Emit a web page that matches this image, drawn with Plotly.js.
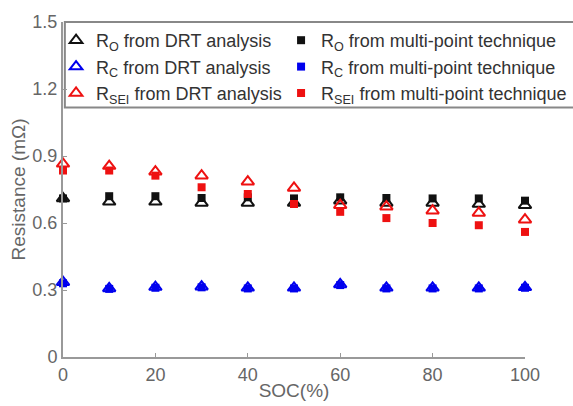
<!DOCTYPE html>
<html>
<head>
<meta charset="utf-8">
<script src="https://cdn.plot.ly/plotly-3.0.1.min.js"></script>
<style>html,body{margin:0;padding:0;background:#fff}#chart{width:573px;height:406px}</style>
</head>
<body>
<div id="chart"></div>
<script>
var soc = [0, 10, 20, 30, 40, 50, 60, 70, 80, 90, 100];
var ro_drt = [0.71, 0.695, 0.695, 0.69, 0.69, 0.69, 0.70, 0.69, 0.69, 0.685, 0.68];
var ro_mp = [0.71, 0.72, 0.72, 0.712, 0.715, 0.71, 0.715, 0.712, 0.71, 0.71, 0.70];
var rc_drt = [0.335, 0.307, 0.313, 0.315, 0.31, 0.31, 0.325, 0.31, 0.31, 0.31, 0.312];
var rc_mp = [0.33, 0.305, 0.31, 0.312, 0.307, 0.307, 0.322, 0.307, 0.307, 0.307, 0.31];
var rsei_drt = [0.865, 0.855, 0.83, 0.812, 0.785, 0.757, 0.68, 0.673, 0.655, 0.645, 0.615];
var rsei_mp = [0.835, 0.835, 0.812, 0.76, 0.73, 0.685, 0.65, 0.622, 0.60, 0.59, 0.56];

var names = [
  'R<sub>O</sub> from DRT analysis', 'R<sub>O</sub> from multi-point technique',
  'R<sub>C</sub> from DRT analysis', 'R<sub>C</sub> from multi-point technique',
  'R<sub>SEI</sub> from DRT analysis', 'R<sub>SEI</sub> from multi-point technique'
];
var colors = ['#111111', '#0000ee', '#ee1111'];

function openTri(y, c, n) {
  return {x: soc, y: y, name: n, type: 'scatter', mode: 'markers', cliponaxis: false, legend: 'legend',
    marker: {symbol: 'triangle-up-open', size: 11, color: c, line: {width: 2, color: c}}};
}
function filledSq(y, c, n) {
  return {x: soc, y: y, name: n, type: 'scatter', mode: 'markers', cliponaxis: false, legend: 'legend2',
    marker: {symbol: 'square', size: 8, color: c, line: {width: 0}}};
}
var data = [
  filledSq(ro_mp, colors[0], names[1]),
  openTri(ro_drt, colors[0], names[0]),
  filledSq(rc_mp, colors[1], names[3]),
  openTri(rc_drt, colors[1], names[2]),
  filledSq(rsei_mp, colors[2], names[5]),
  openTri(rsei_drt, colors[2], names[4])
];

var legBase = {
  orientation: 'v', yanchor: 'top', xanchor: 'left', y: 1.0,
  bgcolor: 'rgba(0,0,0,0)', borderwidth: 0, traceorder: 'normal',
  font: {size: 18, color: '#333'}, itemwidth: 30
};
var layout = {
  width: 573, height: 406,
  margin: {l: 63, r: 48, t: 22, b: 49, autoexpand: false},
  paper_bgcolor: '#fff', plot_bgcolor: '#fff',
  font: {family: 'Liberation Sans, Arial, sans-serif', color: '#444', size: 14},
  showlegend: true,
  legend: Object.assign({}, legBase, {x: -0.015}),
  legend2: Object.assign({}, legBase, {x: 0.472}),
  shapes: [{
    type: 'rect', xref: 'paper', yref: 'paper', layer: 'below',
    x0: 0.004, x1: 1.11, y0: 0.745, y1: 1.0,
    line: {color: '#888', width: 2}, fillcolor: '#fff'
  }],
  xaxis: {
    range: [0, 100], tickvals: [0, 20, 40, 60, 80, 100],
    showgrid: false, zeroline: false, showline: true, linecolor: '#999', linewidth: 2,
    ticks: 'inside', ticklen: 4, tickcolor: '#999', tickwidth: 1,
    tickfont: {size: 18, color: '#666'},
    title: {text: 'SOC(%)', font: {size: 19, color: '#666'}, standoff: 0}
  },
  yaxis: {
    range: [0, 1.5], tickvals: [0, 0.3, 0.6, 0.9, 1.2, 1.5],
    ticktext: ['0', '0.3', '0.6', '0.9', '1.2', '1.5'],
    showgrid: false, zeroline: false, showline: true, linecolor: '#999', linewidth: 2,
    ticks: 'inside', ticklen: 4, tickcolor: '#999', tickwidth: 1,
    tickfont: {size: 18, color: '#666'},
    title: {text: 'Resistance (mΩ)', font: {size: 19, color: '#666'}, standoff: 2}
  }
};
Plotly.newPlot('chart', data, layout, {displayModeBar: false, staticPlot: true});
</script>
</body>
</html>
